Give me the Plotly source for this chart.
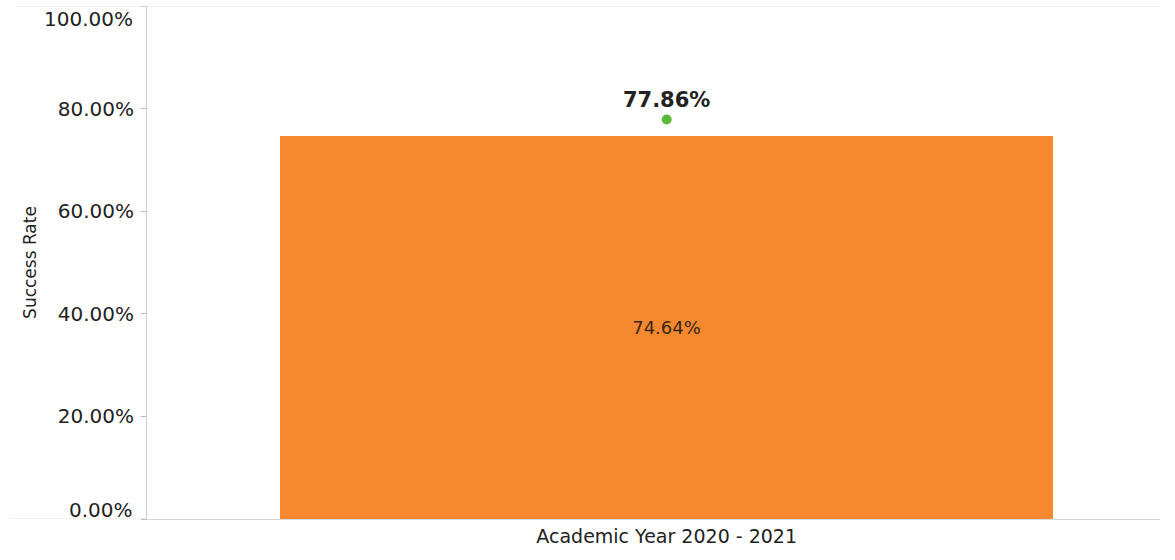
import plotly.graph_objects as go

categories = ["Academic Year 2020 - 2021"]
bar_values = [74.64]
point_values = [77.86]
tick_vals = [0, 20, 40, 60, 80, 100]
tick_text = ["0.00%", "20.00%", "40.00%", "60.00%", "80.00%", "100.00%"]

FONT = "DejaVu Sans, Verdana, sans-serif"

fig = go.Figure()
fig.add_trace(go.Bar(
    x=categories, y=bar_values, width=0.763,
    marker=dict(color="#F68830", line=dict(width=0)),
    text=[f"{v:.2f}%" for v in bar_values], textposition="inside",
    insidetextanchor="middle",
    textfont=dict(family=FONT, size=18, color="#3A2618"),
    showlegend=False,
))
fig.add_trace(go.Scatter(
    x=categories, y=point_values, mode="markers+text",
    marker=dict(color="#5CB83C", size=10),
    text=[f"<b>{v:.2f}%</b>" for v in point_values], textposition="top center",
    textfont=dict(family=FONT, size=21, color="#222222"),
    showlegend=False,
))

# inner tick labels come from the axis; the two end labels are nudged inward like the reference
inner_text = [t if v not in (0, 100) else "" for v, t in zip(tick_vals, tick_text)]

fig.update_layout(
    width=1175, height=560,
    margin=dict(l=147, r=15, t=6, b=41),
    paper_bgcolor="white", plot_bgcolor="white",
    font=dict(family=FONT, color="#222222"),
    xaxis=dict(range=[-0.513, 0.487], showgrid=False, showline=True, linecolor="#D8D8D8",
               tickfont=dict(family=FONT, size=19, color="#222222"), ticks="", mirror=False),
    yaxis=dict(range=[0, 100], tickvals=tick_vals, ticktext=inner_text,
               showgrid=False, showline=True, linecolor="#CCCCCC",
               ticks="outside", ticklen=5, tickcolor="#BBBBBB",
               ticklabelstandoff=3,
               tickfont=dict(family=FONT, size=20, color="#222222"),
               automargin=False,
               title=dict(text="Success Rate", font=dict(family=FONT, size=17, color="#222222"), standoff=16)),
    bargap=0,
)
for v, t in zip(tick_vals, tick_text):
    if v in (0, 100):
        fig.add_annotation(xref="paper", yref="y", x=0, y=v, text=t, showarrow=False,
                           xanchor="right", yanchor="middle", xshift=-12,
                           yshift=-13 if v == 100 else 9,
                           font=dict(family=FONT, size=20, color="#222222"))
fig.add_shape(type="line", xref="paper", yref="y", x0=-0.13, x1=1, y0=100, y1=100,
              line=dict(color="#E2E2E2", width=1))
fig.add_shape(type="line", xref="paper", yref="y", x0=-0.135, x1=0, y0=0, y1=0,
              line=dict(color="#E2E2E2", width=1))
fig.write_html("out.html")
